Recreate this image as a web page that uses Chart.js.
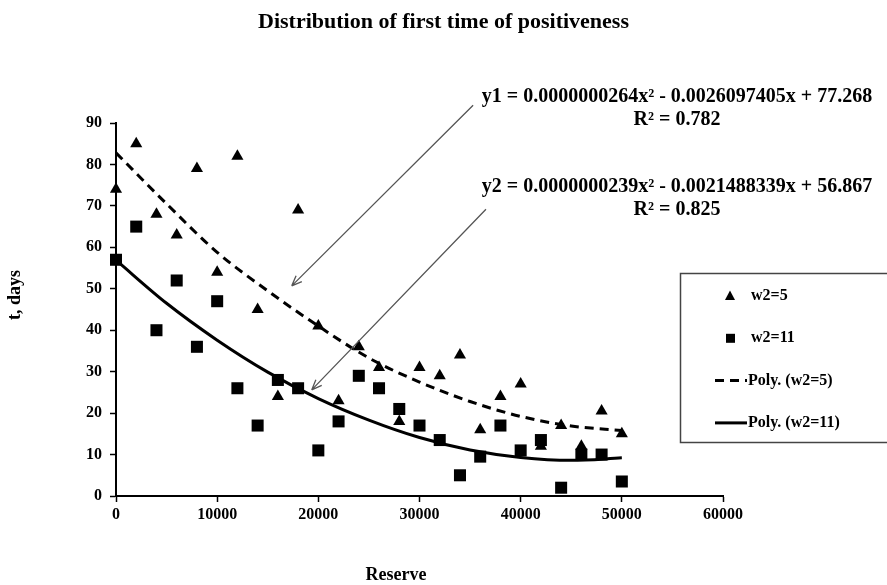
<!DOCTYPE html>
<html>
<head>
<meta charset="utf-8">
<script src="https://cdn.jsdelivr.net/npm/chart.js@4.4.1/dist/chart.umd.min.js"></script>
<style>
  body { margin: 0; background: #fff; }
  canvas { display: block; }
</style>
</head>
<body>
<canvas id="chart" width="887" height="585"></canvas>
<script>
// values
const reserve = [0, 2000, 4000, 6000, 8000, 10000, 12000, 14000, 16000, 18000, 20000, 22000, 24000,
  26000, 28000, 30000, 32000, 34000, 36000, 38000, 40000, 42000, 44000, 46000, 48000, 50000];
const daysW5 = [74, 85, 68, 63, 79, 54, 82, 45, 24, 69, 41, 23, 36,
  31, 18, 31, 29, 34, 16, 24, 27, 12, 17, 12, 20.5, 15];
const daysW11 = [57, 65, 40, 52, 36, 47, 26, 17, 28, 26, 11, 18, 29,
  26, 21, 17, 13.5, 5, 9.5, 17, 11, 13.5, 2, 10, 10, 3.5];

// trend lines, sampled from the drawn curves
const fitReserve = [0, 5000, 10000, 15000, 20000, 25000, 30000, 35000, 40000, 45000, 50000];
const polyW5 = [82.8, 70.5, 58.8, 49.5, 41, 33.3, 27.5, 22.8, 19.2, 16.9, 15.8];
const polyW11 = [56.9, 46.5, 37.6, 29.9, 23.5, 18.3, 14.1, 11.1, 9.3, 8.6, 9.2];

const xTickValues = [0, 10000, 20000, 30000, 40000, 50000, 60000];
const yTickValues = [0, 10, 20, 30, 40, 50, 60, 70, 80, 90];

const seriesNames = ['w2=5', 'w2=11', 'Poly. (w2=5)', 'Poly. (w2=11)'];
const equations = [
  ['y1 = 0.0000000264x\u00B2 - 0.0026097405x + 77.268', 'R\u00B2 = 0.782'],
  ['y2 = 0.0000000239x\u00B2 - 0.0021488339x + 56.867', 'R\u00B2 = 0.825']
];

const serif = "'Liberation Serif', 'Times New Roman', serif";
const toPoints = (xs, ys) => xs.map((x, i) => ({ x: x, y: ys[i] }));

function drawArrow(ctx, x1, y1, x2, y2) {
  const ang = Math.atan2(y2 - y1, x2 - x1);
  ctx.beginPath();
  ctx.moveTo(x1, y1);
  ctx.lineTo(x2, y2);
  [-1, 1].forEach(s => {
    ctx.moveTo(x2, y2);
    ctx.lineTo(x2 - 11 * Math.cos(ang + s * 0.38), y2 - 11 * Math.sin(ang + s * 0.38));
  });
  ctx.stroke();
}

const extras = {
  id: 'extras',
  afterDraw(chart) {
    const ctx = chart.ctx;
    const xs = chart.scales.x, ys = chart.scales.y;
    const px = v => xs.getPixelForValue(v);
    const py = v => ys.getPixelForValue(v);
    ctx.save();

    // arrows from equations to curves
    ctx.strokeStyle = '#555';
    ctx.lineWidth = 1.3;
    drawArrow(ctx, px(35300), py(94.3), px(17370), py(50.7));
    drawArrow(ctx, px(36570), py(69.2), px(19345), py(25.6));

    // equation labels
    ctx.fillStyle = '#000';
    ctx.font = 'bold 20px ' + serif;
    ctx.textAlign = 'center';
    ctx.textBaseline = 'middle';
    ctx.fillText(equations[0][0], 677, 97);
    ctx.fillText(equations[0][1], 677, 120);
    ctx.fillText(equations[1][0], 677, 187);
    ctx.fillText(equations[1][1], 677, 210);

    // axis titles
    ctx.font = 'bold 18px ' + serif;
    ctx.fillText('Reserve', 396, 575);
    ctx.save();
    ctx.translate(15, 295);
    ctx.rotate(-Math.PI / 2);
    ctx.fillText('t, days', 0, 0);
    ctx.restore();

    // legend box
    ctx.strokeStyle = '#444';
    ctx.lineWidth = 1.5;
    ctx.strokeRect(680.5, 273.5, 210, 169);
    ctx.font = 'bold 16px ' + serif;
    ctx.textAlign = 'left';
    chart.data.datasets.forEach((ds, i) => {
      const y = 296 + i * 42.3;
      ctx.fillStyle = '#000';
      ctx.strokeStyle = '#000';
      if (ds.showLine) {
        ctx.lineWidth = 3;
        ctx.setLineDash(ds.borderDash || []);
        ctx.beginPath();
        ctx.moveTo(715, y);
        ctx.lineTo(747, y);
        ctx.stroke();
        ctx.setLineDash([]);
      } else if (ds.pointStyle === 'triangle') {
        ctx.beginPath();
        ctx.moveTo(730, y - 5.5);
        ctx.lineTo(735, y + 4);
        ctx.lineTo(725, y + 4);
        ctx.closePath();
        ctx.fill();
      } else {
        ctx.fillRect(726, y - 4.5, 9, 9);
      }
      ctx.fillText(ds.label, ds.showLine ? 748 : 751, y);
    });
    ctx.restore();
  }
};

const axisFont = { family: serif, size: 16, weight: 'bold' };

new Chart(document.getElementById('chart').getContext('2d'), {
  type: 'scatter',
  data: {
    datasets: [
      {
        label: seriesNames[0],
        data: toPoints(reserve, daysW5),
        pointStyle: 'triangle',
        pointRadius: 7,
        backgroundColor: '#000',
        borderColor: '#000',
        borderWidth: 0,
        showLine: false,
        clip: false
      },
      {
        label: seriesNames[1],
        data: toPoints(reserve, daysW11),
        pointStyle: 'rect',
        pointRadius: 8.5,
        backgroundColor: '#000',
        borderColor: '#000',
        borderWidth: 0,
        showLine: false,
        clip: false
      },
      {
        label: seriesNames[2],
        data: toPoints(fitReserve, polyW5),
        showLine: true,
        borderColor: '#000',
        borderWidth: 3,
        borderDash: [9, 6],
        pointRadius: 0,
        cubicInterpolationMode: 'monotone',
        clip: false
      },
      {
        label: seriesNames[3],
        data: toPoints(fitReserve, polyW11),
        showLine: true,
        borderColor: '#000',
        borderWidth: 3,
        pointRadius: 0,
        cubicInterpolationMode: 'monotone',
        clip: false
      }
    ]
  },
  options: {
    responsive: false,
    animation: false,
    layout: { padding: 0 },
    plugins: {
      legend: { display: false },
      tooltip: { enabled: false },
      title: {
        display: true,
        text: 'Distribution of first time of positiveness',
        color: '#000',
        font: { family: serif, size: 22, weight: 'bold' },
        padding: { top: 9, bottom: 87.6 }
      }
    },
    scales: {
      x: {
        type: 'linear',
        min: 0,
        max: 60000,
        afterBuildTicks: s => { s.ticks = xTickValues.map(v => ({ value: v })); },
        afterFit: s => { s.height = 89; },
        ticks: { callback: v => String(v), color: '#000', font: axisFont, padding: 3, maxRotation: 0 },
        grid: { drawOnChartArea: false, tickLength: 6, tickColor: '#000', tickWidth: 1.5 },
        border: { color: '#000', width: 2 }
      },
      y: {
        type: 'linear',
        min: 0,
        max: 90,
        afterBuildTicks: s => { s.ticks = yTickValues.map(v => ({ value: v })); },
        afterFit: s => { s.width = 116; },
        ticks: { callback: v => String(v), color: '#000', font: axisFont, padding: 8 },
        grid: { drawOnChartArea: false, tickLength: 6, tickColor: '#000', tickWidth: 1.5 },
        border: { color: '#000', width: 2 }
      },
      // empty right-hand space that holds the legend box
      side: {
        type: 'linear',
        position: 'right',
        display: true,
        afterFit: s => { s.width = 164; },
        ticks: { display: false },
        grid: { display: false },
        border: { display: false }
      }
    }
  },
  plugins: [extras]
});
</script>
</body>
</html>
